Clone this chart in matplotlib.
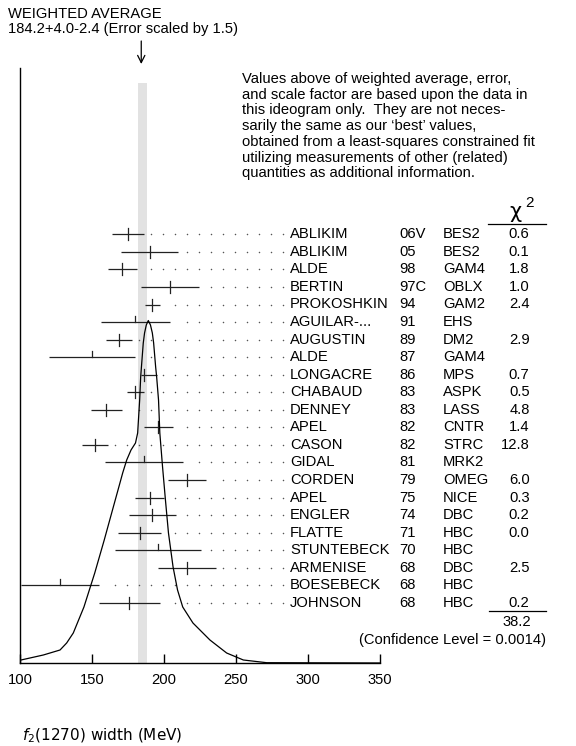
import numpy as np
import matplotlib
matplotlib.use('Agg')
import matplotlib.pyplot as plt
import matplotlib.transforms as mtransforms

plt.rcParams['font.family'] = 'Liberation Sans'
plt.rcParams['mathtext.fontset'] = 'dejavusans'

# weighted average (MeV) and its scaled errors
avg = 184.2
avg_err_hi = 4.0
avg_err_lo = 2.4

authors = ["ABLIKIM", "ABLIKIM", "ALDE", "BERTIN", "PROKOSHKIN", "AGUILAR-...",
           "AUGUSTIN", "ALDE", "LONGACRE", "CHABAUD", "DENNEY", "APEL", "CASON",
           "GIDAL", "CORDEN", "APEL", "ENGLER", "FLATTE", "STUNTEBECK",
           "ARMENISE", "BOESEBECK", "JOHNSON"]
years = ["06V", "05", "98", "97C", "94", "91", "89", "87", "86", "83", "83", "82",
         "82", "81", "79", "75", "74", "71", "70", "68", "68", "68"]
techs = ["BES2", "BES2", "GAM4", "OBLX", "GAM2", "EHS", "DM2", "GAM4", "MPS", "ASPK",
         "LASS", "CNTR", "STRC", "MRK2", "OMEG", "NICE", "DBC", "HBC", "HBC", "DBC",
         "HBC", "HBC"]
chi2 = ["0.6", "0.1", "1.8", "1.0", "2.4", "", "2.9", "", "0.7", "0.5", "4.8", "1.4",
        "12.8", "", "6.0", "0.3", "0.2", "0.0", "", "2.5", "", "0.2"]

values = [175, 190, 171, 204, 192, 180, 169, 150, 186, 180, 160, 196, 152, 186,
          216, 190, 192, 183, 196, 216, 128, 176]
err_lo = [11, 20, 10, 20, 5, 24, 9, 30, 2, 6, 11, 10, 9, 27, 13, 10, 16, 15, 30, 20, 27, 21]
err_hi = [11, 20, 10, 20, 5, 24, 9, 30, 9, 6, 11, 10, 9, 27, 13, 10, 16, 15, 30, 20, 27, 21]
used = [True, True, True, True, True, False, True, False, True, True, True, True,
        True, False, True, True, True, True, False, True, False, True]

chi2_total = "38.2"
conf_level = "(Confidence Level = 0.0014)"

# ideogram curve: MeV, height above axis (px)
curve_x = [100.0, 100.7, 116.2, 127.8, 132.4, 137.0, 144.4, 151.9, 158.5, 164.8,
           169.4, 171.3, 174.1, 177.1, 180.2, 181.7, 183.1, 183.8, 185.6, 186.5,
           187.7, 189.1, 190.6, 191.9, 192.8, 194.2, 194.9, 196.2, 197.1, 199.0,
           201.0, 203.1, 206.3, 209.4, 213.0, 220.1, 231.9, 243.5, 255.1, 271.3, 350.0]
curve_h = [3, 3, 8, 13, 20, 30, 56, 90, 123, 156,
           180, 190, 203, 213, 220, 230, 263, 286, 320, 330,
           338, 342.5, 338, 330, 320, 296, 286, 263, 230, 196,
           163, 130, 96, 73, 56, 40, 23, 10, 3, 0.3, 0]

W, H = 576, 746
fs = 10.6
fig = plt.figure(figsize=(W / 100, H / 100), dpi=100)
ax = fig.add_axes([20 / W, 83 / H, 360 / W, 595 / H])
ax.set_xlim(100, 350)
ax.set_ylim(0, 595)

for s in ['top', 'right']:
    ax.spines[s].set_visible(False)
ax.spines['left'].set_linewidth(1.0)
ax.spines['bottom'].set_linewidth(1.0)
ax.set_yticks([])
ax.set_xticks([100, 150, 200, 250, 300, 350])
ax.tick_params(axis='x', direction='in', length=6.5, width=1.0, pad=7.5, labelsize=fs)

# row positions (px above the axis line)
row_y = 428.7 - 17.55 * np.arange(len(authors))

# weighted average band
ax.fill_between([avg - avg_err_lo, avg + avg_err_hi], 0, 580, color='#e2e2e2',
                lw=0, zorder=0)

# dotted leaders
dot_x = np.arange(282.3, 100, -8.33)
for v, eh, y in zip(values, err_hi, row_y):
    xs = dot_x[dot_x > v + eh + 4.0]
    ax.plot(xs, np.full(len(xs), y), ls='none', marker='o', ms=1.1, mew=0,
            color='#555555', zorder=1)

# error bars
for v, el, eh, y, u in zip(values, err_lo, err_hi, row_y, used):
    ax.plot([v - el, v + eh], [y, y], color='#222222', lw=0.9, solid_capstyle='butt',
            zorder=3)
    lo = y - 6 if u else y
    ax.plot([v, v], [lo, y + 6], color='#222222', lw=0.9, zorder=3)

# ideogram
ax.plot(curve_x, curve_h, color='black', lw=0.9, zorder=4)

# arrow at weighted average
ax.annotate('', xy=(avg, 599), xytext=(avg, 622), annotation_clip=False,
            arrowprops=dict(arrowstyle='->', lw=0.9, color='black', mutation_scale=13,
                            shrinkA=0, shrinkB=0))

# table
tr = mtransforms.blended_transform_factory(fig.transFigure, ax.transData)
for i, y in enumerate(row_y):
    ax.text(290 / W, y, authors[i], transform=tr, va='center', fontsize=fs)
    ax.text(399 / W, y, years[i], transform=tr, va='center', fontsize=fs)
    ax.text(443 / W, y, techs[i], transform=tr, va='center', fontsize=fs)
    ax.text(529.5 / W, y, chi2[i], transform=tr, va='center', ha='right', fontsize=fs)

ax.text(515.5 / W, 441, '\u03c7', transform=tr, ha='center', va='bottom', fontsize=15,
        family='DejaVu Sans')
ax.text(525 / W, 456, '2', transform=tr, ha='left', va='baseline', fontsize=11)
ax.plot([488 / W, 546 / W], [439, 439], transform=tr, color='black', lw=0.9, clip_on=False)
ax.plot([489 / W, 546 / W], [52, 52], transform=tr, color='black', lw=0.9, clip_on=False)
ax.text(531.5 / W, 41, chi2_total, transform=tr, va='center', ha='right', fontsize=fs)
ax.text(546 / W, 23, conf_level, transform=tr, va='center', ha='right', fontsize=fs)

# header
fig.text(8 / W, 1 - 18.3 / H, "WEIGHTED AVERAGE", fontsize=fs, va='baseline')
fig.text(8 / W, 1 - 33.3 / H, "184.2+4.0-2.4 (Error scaled by 1.5)", fontsize=fs,
         va='baseline')

note = ["Values above of weighted average, error,",
        "and scale factor are based upon the data in",
        "this ideogram only.  They are not neces-",
        "sarily the same as our \u2018best\u2019 values,",
        "obtained from a least-squares constrained fit",
        "utilizing measurements of other (related)",
        "quantities as additional information."]
for k, line in enumerate(note):
    fig.text(242.3 / W, 1 - (82.7 + 15.8 * k) / H, line, fontsize=fs, va='baseline')

fig.text(22 / W, 1 - 740 / H, r'$f_2$(1270) width (MeV)', fontsize=11,
         family='DejaVu Sans', va='baseline')

fig.savefig('out.png', dpi=100)
